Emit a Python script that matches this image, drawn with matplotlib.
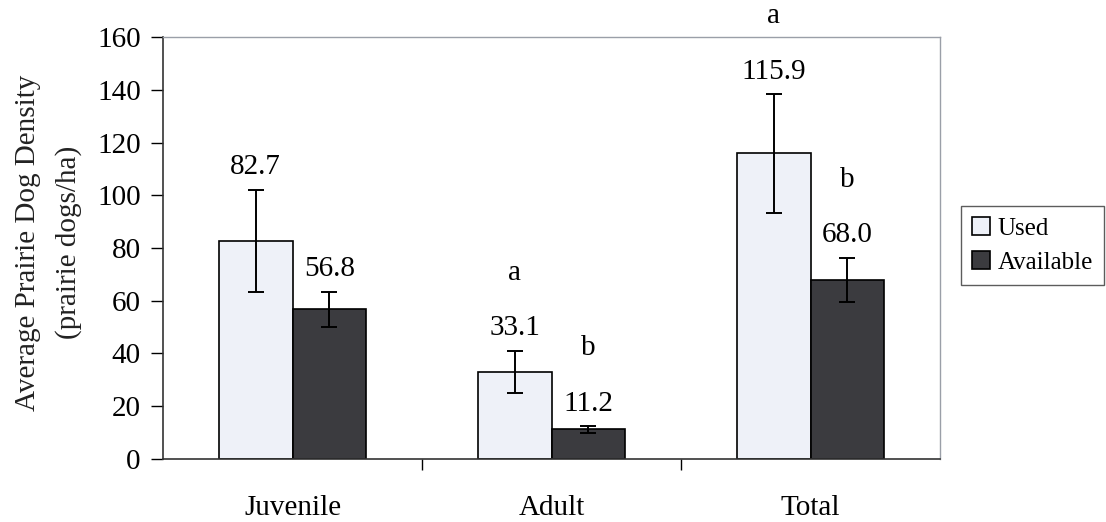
import numpy as np
import matplotlib.pyplot as plt

plt.rcParams['font.family'] = ['Liberation Serif', 'DejaVu Serif']

# data
categories = ['Juvenile', 'Adult', 'Total']
used = [82.7, 33.1, 115.9]
available = [56.8, 11.2, 68.0]
used_err = [19.4, 8.0, 22.5]
available_err = [6.6, 1.2, 8.3]
used_letters = ['', 'a', 'a']
available_letters = ['', 'b', 'b']

used_color = '#eef1f8'
avail_color = '#3b3b3f'
fs = 21

fig = plt.figure(figsize=(11.06, 5.22), dpi=100)
ax = fig.add_axes([0.1474, 0.1207, 0.7026, 0.8084])

x = np.arange(len(categories))
w = 0.285

b1 = ax.bar(x - w/2, used, w, color=used_color, edgecolor='black', linewidth=1.2, label='Used')
b2 = ax.bar(x + w/2, available, w, color=avail_color, edgecolor='black', linewidth=1.2, label='Available')
ax.errorbar(x - w/2, used, yerr=used_err, fmt='none', ecolor='black', elinewidth=1.4, capsize=6, capthick=1.4)
ax.errorbar(x + w/2, available, yerr=available_err, fmt='none', ecolor='black', elinewidth=1.4, capsize=6, capthick=1.4)

# value labels and significance letters
for i in range(len(categories)):
    for xpos, val, err, let in [(x[i] - w/2, used[i], used_err[i], used_letters[i]),
                                (x[i] + w/2, available[i], available_err[i], available_letters[i])]:
        ytxt = val + err + 8.5
        ax.text(xpos, ytxt, '%.1f' % val, ha='center', va='center', fontsize=fs, clip_on=False)
        if let:
            ax.text(xpos, ytxt + 21, let, ha='center', va='center', fontsize=fs, clip_on=False)

ax.set_xlim(-0.5, 2.5)
ax.set_ylim(0, 160)
ax.set_yticks(np.arange(0, 161, 20))
ax.tick_params(axis='y', labelsize=fs, direction='out', length=9, width=1, pad=7)

ax.set_xticks(x)
ax.set_xticklabels(categories)
ax.set_xticks([0.5, 1.5], minor=True)
ax.tick_params(axis='x', which='major', length=0, labelsize=fs, pad=26)
ax.tick_params(axis='x', which='minor', length=8, width=1, direction='out')

for s in ['left', 'bottom']:
    ax.spines[s].set_color('#333333')
    ax.spines[s].set_linewidth(1.2)
for s in ['top', 'right']:
    ax.spines[s].set_color('#9a9fa8')
    ax.spines[s].set_linewidth(1.0)

fig.text(0.025, 0.535, 'Average Prairie Dog Density', rotation=90, ha='center', va='center', fontsize=fs, color='#222222')
fig.text(0.062, 0.535, '(prairie dogs/ha)', rotation=90, ha='center', va='center', fontsize=fs, color='#222222')

leg = fig.legend(handles=[b1, b2], loc='upper left', bbox_to_anchor=(0.869, 0.605),
                 fontsize=18, frameon=True, fancybox=False, handlelength=0.7, handleheight=0.7,
                 handletextpad=0.3, borderpad=0.45, labelspacing=0.45, borderaxespad=0)
leg.get_frame().set_edgecolor('#333333')
leg.get_frame().set_linewidth(1.0)

fig.savefig('out.png', dpi=100)
